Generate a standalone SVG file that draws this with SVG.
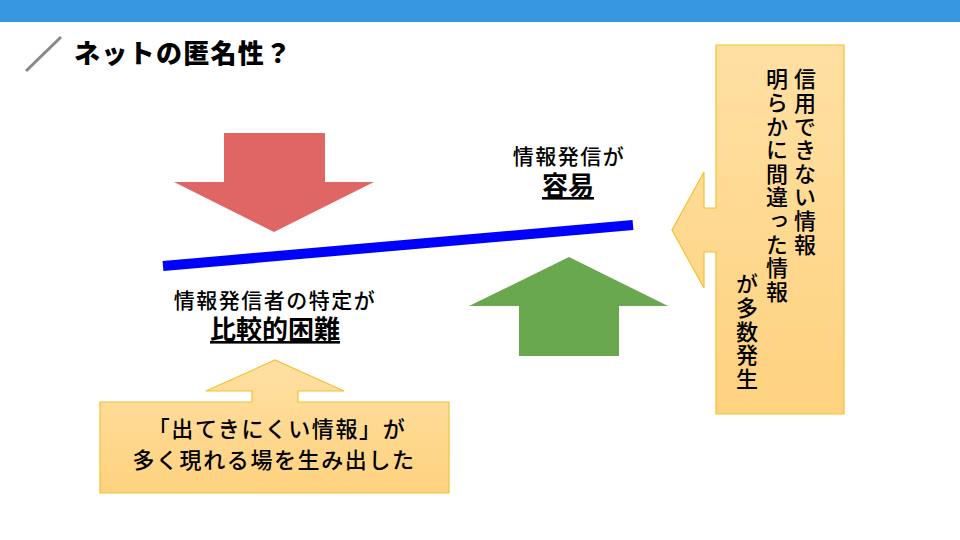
<svg xmlns="http://www.w3.org/2000/svg" width="960" height="540" viewBox="0 0 960 540">
<style>
text{font-family:"Noto Sans CJK JP","Noto Sans CJK SC",sans-serif;fill:#000}
.t{font-size:21px;letter-spacing:1.5px;font-weight:500}
.bt{font-size:22px;letter-spacing:1.6px;font-weight:500}
.b{font-size:26px;font-weight:bold;text-decoration:underline}
.v{font-size:22px;writing-mode:vertical-rl;letter-spacing:1.6px;font-weight:500}
.callout{fill:url(#og);stroke:#F1C232;stroke-width:1.2}
</style>
<defs>
<linearGradient id="og" x1="0" y1="0" x2="0" y2="1">
<stop offset="0" stop-color="#FFE0A3"/>
<stop offset="1" stop-color="#FED27F"/>
</linearGradient>
</defs>
<rect x="0" y="0" width="960" height="540" fill="#fff"/>
<rect x="0" y="0" width="960" height="22" fill="#3797DF"/>
<g id="title">
<line x1="26" y1="71" x2="61" y2="37" stroke="#888" stroke-width="3"/>
<text x="74" y="63" font-size="26" font-weight="900" letter-spacing="1.3">ネットの匿名性？</text>
</g>
<g id="red-arrow">
<path d="M224,133 H325 V182 H374 L274,232 L174,182 H224 Z" fill="#E06666"/>
</g>
<g id="green-arrow">
<path d="M569,257 L668,306 H619 V356 H519 V306 H469 Z" fill="#6AA84F"/>
</g>
<g id="connectors">
<line x1="163" y1="266" x2="633" y2="225" stroke="#0000FF" stroke-width="10"/>
</g>
<g id="label-easy">
<text class="t" x="569" y="164" text-anchor="middle">情報発信が</text>
<text class="b" x="568" y="195" text-anchor="middle">容易</text>
</g>
<g id="label-hard">
<text class="t" x="275" y="308" text-anchor="middle">情報発信者の特定が</text>
<text class="b" x="275" y="339" text-anchor="middle">比較的困難</text>
</g>
<g id="bottom-callout">
<path class="callout" d="M100,402 H252 V391 H206 L275,360 L344,391 H298 V402 H449 V493 H100 Z"/>
<text class="bt" x="277" y="437" text-anchor="middle">「出てきにくい情報」が</text>
<text class="bt" x="274" y="468" text-anchor="middle">多く現れる場を生み出した</text>
</g>
<g id="right-callout">
<path class="callout" d="M716,45 H844 V414 H716 V252 H704 V288 L672,230 L704,172 V208 H716 Z"/>
<text class="v" x="805" y="68">信用できない情報</text>
<text class="v" x="777" y="68">明らかに間違った情報</text>
<text class="v" x="747" y="273">が多数発生</text>
</g>
</svg>
